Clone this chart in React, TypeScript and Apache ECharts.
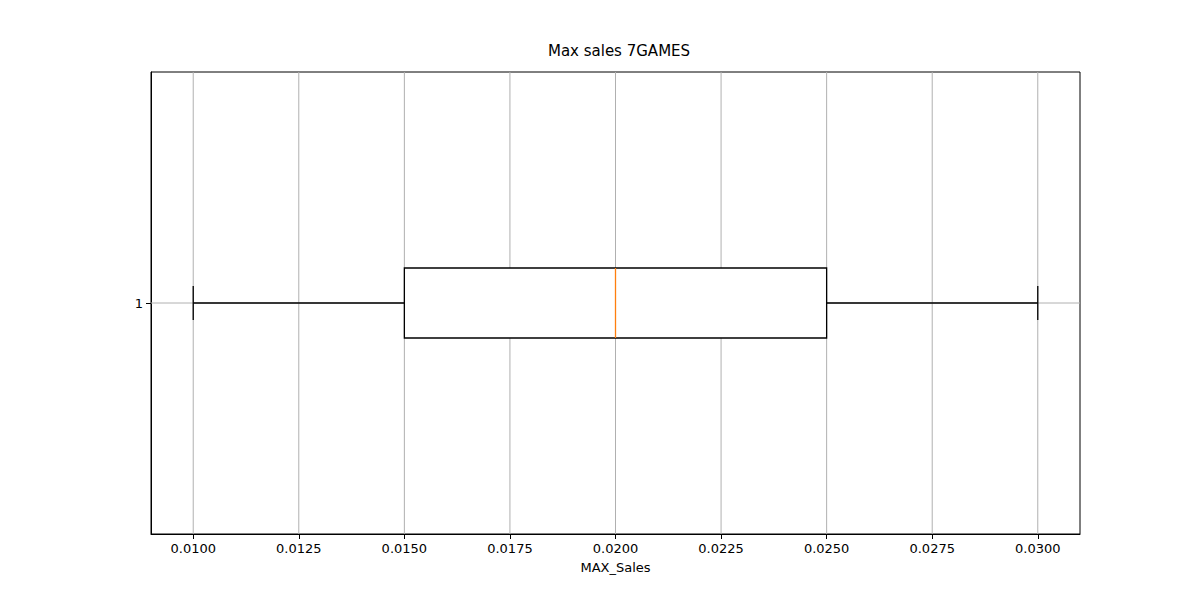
import React, { useEffect, useRef } from "react";
import * as echarts from "echarts";

const categories = ["1"];
const boxStats = [0.01, 0.015, 0.02, 0.025, 0.03]; // low, q1, median, q3, high
const tickValues = [0.01, 0.0125, 0.015, 0.0175, 0.02, 0.0225, 0.025, 0.0275, 0.03];

export default function App() {
  const ref = useRef<HTMLDivElement>(null);
  useEffect(() => {
    const chart = echarts.init(ref.current!, null, { renderer: "svg" });
    const font = "DejaVu Sans";
    chart.setOption({
      animation: false,
      title: {
        text: "Max sales 7GAMES",
        left: 614,
        textAlign: "center",
        top: 38,
        textStyle: { fontFamily: font, fontSize: 15, fontWeight: "normal", color: "#000" },
      },
      grid: { left: 151, right: 120, top: 72, bottom: 66, show: true, borderColor: "#000", borderWidth: 1 },
      xAxis: {
        type: "value",
        min: 0.009,
        max: 0.031,
        name: "MAX_Sales",
        nameLocation: "middle",
        nameGap: 27,
        nameTextStyle: { fontFamily: font, fontSize: 13, color: "#000" },
        axisLine: { show: true, lineStyle: { color: "#000" } },
        axisTick: { show: true, length: 5, lineStyle: { color: "#000" }, customValues: tickValues },
        axisLabel: {
          fontFamily: font, fontSize: 13, color: "#000", margin: 8,
          customValues: tickValues,
          formatter: (v: number) => v.toFixed(4),
        },
        splitLine: { show: false },
      },
      yAxis: {
        type: "category",
        data: categories,
        axisLine: { show: true, lineStyle: { color: "#000" } },
        axisTick: { show: true, alignWithLabel: true, length: 5, lineStyle: { color: "#000" } },
        axisLabel: { fontFamily: font, fontSize: 13, color: "#000", margin: 8 },
        splitLine: { show: false },
      },
      series: [
        {
          type: "custom",
          data: [[0, ...boxStats]],
          encode: { y: 0, x: [1, 2, 3, 4, 5] },
          renderItem: (params: any, api: any) => {
            const cs = params.coordSys;
            const ci = api.value(0);
            const p = (k: number) => api.coord([api.value(k), ci]);
            const lo = p(1), q1 = p(2), md = p(3), q3 = p(4), hi = p(5);
            const y = lo[1];
            const hb = 35, hc = 17;
            const blk = { stroke: "#000", lineWidth: 1.3, fill: "none" };
            const grey = { stroke: "#b0b0b0", lineWidth: 1 };
            const grid = tickValues.map((v) => {
              const gx = api.coord([v, ci])[0];
              return { type: "line", shape: { x1: gx, y1: cs.y, x2: gx, y2: cs.y + cs.height }, style: grey };
            });
            return {
              type: "group",
              children: [
                ...grid,
                { type: "line", shape: { x1: cs.x, y1: y, x2: cs.x + cs.width, y2: y }, style: grey },
                { type: "line", shape: { x1: lo[0], y1: y, x2: q1[0], y2: y }, style: blk },
                { type: "line", shape: { x1: q3[0], y1: y, x2: hi[0], y2: y }, style: blk },
                { type: "line", shape: { x1: lo[0], y1: y - hc, x2: lo[0], y2: y + hc }, style: blk },
                { type: "line", shape: { x1: hi[0], y1: y - hc, x2: hi[0], y2: y + hc }, style: blk },
                { type: "rect", shape: { x: q1[0], y: y - hb, width: q3[0] - q1[0], height: 2 * hb }, style: { stroke: "#000", lineWidth: 1.3, fill: "#fff" } },
                { type: "line", shape: { x1: md[0], y1: y - hb, x2: md[0], y2: y + hb }, style: { stroke: "#ff7f0e", lineWidth: 1.3 } },
              ],
            };
          },
        },
      ],
    });
    return () => chart.dispose();
  }, []);
  return <div ref={ref} style={{ width: 1200, height: 600, margin: -8 }} />;
}
